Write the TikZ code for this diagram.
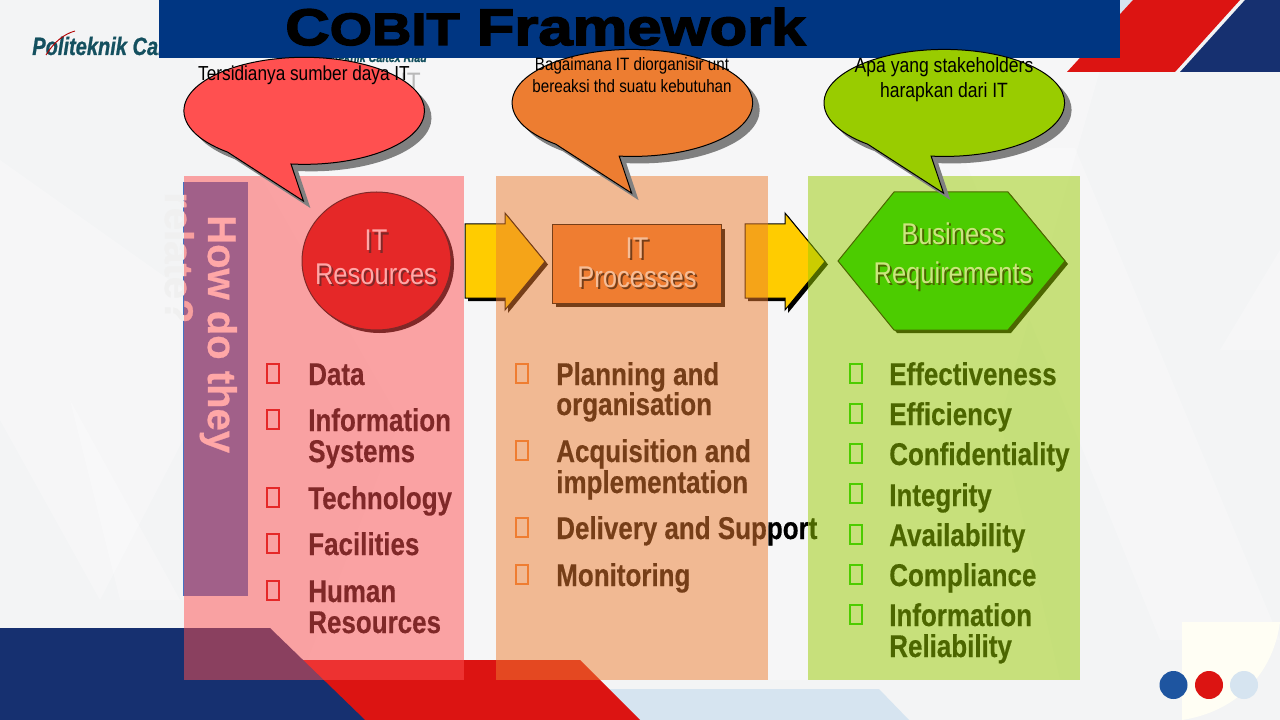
\documentclass[tikz,border=0pt]{standalone}
\usepackage{fontspec}
\setmainfont{Liberation Sans}
\newfontfamily\nar[FakeStretch=0.85]{Liberation Sans}
\newfontfamily\narb[FakeStretch=0.825,FakeBold=0.4]{Liberation Sans Bold}
\newfontfamily\howb[FakeBold=0.6]{Liberation Sans Bold}
\newfontfamily\wideb[FakeStretch=1.2,FakeBold=3]{Liberation Sans Bold}
\newfontfamily\logof[FakeStretch=0.8,FakeBold=0.8]{Liberation Sans Bold Italic}
\definecolor{bgc}{RGB}{243,244,245}
\definecolor{navy}{RGB}{22,48,112}
\definecolor{banner}{RGB}{0,54,130}
\definecolor{redb}{RGB}{220,20,18}
\definecolor{pale}{RGB}{214,228,240}
\definecolor{pred}{HTML}{FF5050}
\definecolor{pora}{HTML}{ED7D31}
\definecolor{pgre}{HTML}{99CC00}
\definecolor{barb}{HTML}{4472C4}
\definecolor{shadowgray}{RGB}{128,128,128}
\definecolor{teal}{RGB}{20,80,95}
\definecolor{cream}{RGB}{255,254,244}
\definecolor{dotb}{RGB}{30,85,160}
\definecolor{yel}{HTML}{FFCC00}
\definecolor{cred}{HTML}{CC0000}
\definecolor{cora}{HTML}{F37D33}
\definecolor{cgre}{HTML}{00CC00}
\tikzset{
 panelbox/.style={fill opacity=.5},
 itemtxt/.style={font=\fontsize{23.6pt}{23.2pt}\selectfont\narb,text=black,anchor=base west,align=left,inner sep=0},
 headtxt/.style={font=\fontsize{22.5pt}{22.5pt}\selectfont\nar,anchor=base,inner sep=0,text=white},
 headshd/.style={headtxt,text=black},
 calltxt/.style={text=black,anchor=base,inner sep=0},
 facet/.style={fill=white,fill opacity=.25,draw=none},
 howtxt/.style={rotate=-90,font=\fontsize{30pt}{30pt}\selectfont\howb,anchor=base west,inner sep=0},
 dotn/.style={circle,minimum size=21pt,inner sep=0},
 bulbox/.style={line width=1.5pt,fill=none},
 callbody/.style={draw=black,line width=.75pt,line join=miter},
}
\newcommand{\callshape}[2]{%
  (#1,#2) ++(-13.2,53.6) arc[start angle=96.3,end angle=-230.4,x radius=120.3,y radius=53.5]
  -- ++(75.9,49) -- cycle}
\newcommand{\callout}[3]{%
  \fill[shadowgray,shift={(7,7)}] \callshape{#1}{#2};
  \path[callbody,fill=#3] \callshape{#1}{#2};}
\newcommand{\bul}[3]{\draw[#1,bulbox] (#2,#3-21) rectangle ++(12,19);}
\begin{document}
\begin{tikzpicture}[x=.75pt,y=-.75pt]
\useasboundingbox (0,0) rectangle (1280,720);
\fill[bgc] (0,0) rectangle (1280,720);
% background facets
\fill[facet] (0,160) -- (240,330) -- (100,600) -- (0,420) -- cycle;
\fill[facet] (960,148) -- (1075,148) -- (1280,640) -- (1160,640) -- cycle;
\fill[facet] (160,0) -- (1120,0) -- (1000,420) -- (400,420) -- cycle;
\fill[facet] (1280,250) -- (1220,350) -- (1280,350) -- cycle;
\fill[facet] (70,400) -- (180,600) -- (120,600) -- cycle;
\fill[facet] (400,420) -- (1000,420) -- (1060,680) -- (300,680) -- cycle;
% corner cream
\fill[cream] (1182,622) -- (1280,622) .. controls (1273,675) and (1235,712) .. (1182,720) -- cycle;
% bottom bands
\fill[pale] (590,689) -- (879,689) -- (909,720) -- (610,720) -- cycle;
\fill[redb] (280,660) -- (580,660) -- (640,720) -- (340,720) -- cycle;
\fill[navy] (0,628) -- (270,628) -- (365,720) -- (0,720) -- cycle;
% top right
\fill[pale] (1110,0) -- (1134,0) -- (1110,28) -- cycle;
\fill[redb] (1067,72) -- (1133,0) -- (1240,0) -- (1175,72) -- cycle;
\fill[navy] (1180,72) -- (1245,0) -- (1280,0) -- (1280,72) -- cycle;
% dots
\node[dotn,fill=dotb] (d1) at (1173.5,685) {};
\node[dotn,fill=redb] (d2) at (1209,685) {};
\node[dotn,fill=pale] (d3) at (1244,685) {};
% logo
\node[font=\fontsize{18.8pt}{18.8pt}\selectfont\logof,text=teal,anchor=base west,inner sep=0] (logo) at (32,55) {Politeknik Caltex};
\draw[red!70!black,line width=.7pt] (46,55) .. controls (54,42) and (64,34) .. (75,31);
\node[font=\fontsize{10pt}{10pt}\selectfont\logof,text=teal,anchor=base east,inner sep=0] (sub) at (427,62) {Politeknik Caltex Riau};
\node[font=\fontsize{20pt}{20pt}\selectfont\nar,text=gray!55,anchor=base east,inner sep=0] (ghost) at (421,92) {IT};
% bar and rotated text beneath panels
\fill[barb] (183,182) rectangle (248,596);
\node[howtxt,text=black!6] (rel) at (165,192) {relate?};
\node[howtxt,text=white] (how) at (208,215) {How do they};
% block arrows
\foreach \ox in {465,745}{
 \fill[black] (\ox+3,227) -- (\ox+43,227) -- (\ox+43,216) -- (\ox+83,264.5) -- (\ox+43,313) -- (\ox+43,301) -- (\ox+3,301) -- cycle;
 \draw[black,fill=yel,line width=.75pt] (\ox,224) -- (\ox+40,224) -- (\ox+40,213) -- (\ox+80,261.5) -- (\ox+40,310) -- (\ox+40,298) -- (\ox,298) -- cycle;
}
% resource circle
\fill[black] (379.5,264) ellipse[x radius=74.5,y radius=69];
\draw[black,fill=cred,line width=.75pt] (376.5,261) ellipse[x radius=74.5,y radius=69];
\node[headshd] (c1s) at (378,253) {IT};
\node[headshd] (c2s) at (378,286) {Resources};
\node[headtxt] (c1) at (376,251) {IT};
\node[headtxt] (c2) at (376,284) {Resources};
% process rectangle
\fill[black] (556,229) rectangle (725,307);
\draw[black,fill=cora,line width=.75pt] (552,225) rectangle (721,303);
\node[headshd] (p1s) at (639,260) {IT};
\node[headshd] (p2s) at (639,289) {Processes};
\node[headtxt] (p1) at (637,258) {IT};
\node[headtxt] (p2) at (637,287) {Processes};
% requirement hexagon
\fill[black] (897,195) -- (1011,195) -- (1068,264) -- (1011,333) -- (897,333) -- (841,264) -- cycle;
\draw[black,fill=cgre,line width=.75pt] (894,192) -- (1008,192) -- (1065,261) -- (1008,330) -- (894,330) -- (838,261) -- cycle;
\node[headshd] (h1s) at (955,246) {Business};
\node[headshd] (h2s) at (955,285) {Requirements};
\node[headtxt] (h1) at (953,244) {Business};
\node[headtxt] (h2) at (953,283) {Requirements};
% list text and bullets, seen through the panels
\foreach \y in {385,431,509,555,602} \bul{cred}{267}{\y};
\node[itemtxt] (r1) at (308,385) {Data};
\node[itemtxt] (r2) at (308,431) {Information};
\node[itemtxt] (r2b) at (308,462) {Systems};
\node[itemtxt] (r3) at (308,509) {Technology};
\node[itemtxt] (r4) at (308,555) {Facilities};
\node[itemtxt] (r5) at (308,602) {Human};
\node[itemtxt] (r5b) at (308,633) {Resources};
\foreach \y in {385,462,539,586} \bul{cora}{516}{\y};
\node[itemtxt] (o1) at (556,385) {Planning and};
\node[itemtxt] (o1b) at (556,415) {organisation};
\node[itemtxt] (o2) at (556,462) {Acquisition and};
\node[itemtxt] (o2b) at (556,493) {implementation};
\node[itemtxt] (o3) at (556,539) {Delivery and Support};
\node[itemtxt] (o4) at (556,586) {Monitoring};
\foreach \y in {385,425,465,505,546,586,626} \bul{cgre}{849.5}{\y};
\node[itemtxt] (g1) at (889,385) {Effectiveness};
\node[itemtxt] (g2) at (889,425) {Efficiency};
\node[itemtxt] (g3) at (889,465) {Confidentiality};
\node[itemtxt] (g4) at (889,506) {Integrity};
\node[itemtxt] (g5) at (889,546) {Availability};
\node[itemtxt] (g6) at (889,586) {Compliance};
\node[itemtxt] (g7) at (889,626) {Information};
\node[itemtxt] (g7b) at (889,657) {Reliability};
% translucent panels
\fill[pred,panelbox] (184,176) rectangle (464,680);
\fill[pora,panelbox] (496,176) rectangle (768,680);
\fill[pgre,panelbox] (808,176) rectangle (1080,680);
% banner and title
\fill[banner] (159,0) rectangle (1120,58);
\node[font=\fontsize{38.5pt}{38.5pt}\selectfont\wideb,text=black,anchor=base west,inner sep=0] (title) at (285,45) {C{\fontsize{34pt}{34pt}\selectfont OBIT} Framework};
% callouts
\callout{304.2}{110.4}{pred}
\callout{632.4}{102.5}{pora}
\callout{944.3}{102.5}{pgre}
\node[calltxt,font=\fontsize{15.2pt}{15.2pt}\selectfont\nar] (t1) at (304,81) {Tersidianya sumber daya IT};
\node[calltxt,font=\fontsize{13.4pt}{13.4pt}\selectfont\nar] (t2) at (632,71) {Bagaimana IT diorganisir unt};
\node[calltxt,font=\fontsize{13.4pt}{13.4pt}\selectfont\nar] (t2b) at (632,93) {bereaksi thd suatu kebutuhan};
\node[calltxt,font=\fontsize{15.5pt}{15.5pt}\selectfont\nar] (t3) at (944,73) {Apa yang stakeholders};
\node[calltxt,font=\fontsize{15.5pt}{15.5pt}\selectfont\nar] (t3b) at (944,98) {harapkan dari IT};
\end{tikzpicture}
\end{document}
